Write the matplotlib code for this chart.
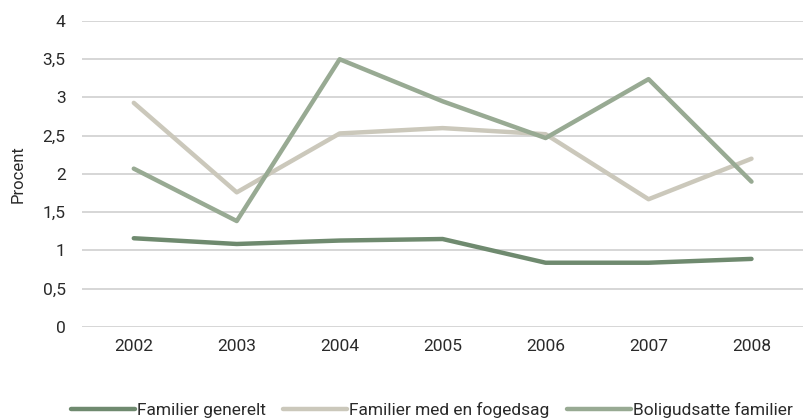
import matplotlib.pyplot as plt

years = ["2002", "2003", "2004", "2005", "2006", "2007", "2008"]
generelt = [1.16, 1.085, 1.13, 1.15, 0.84, 0.84, 0.89]
fogedsag = [2.93, 1.76, 2.53, 2.60, 2.52, 1.67, 2.20]
boligudsatte = [2.07, 1.385, 3.50, 2.95, 2.47, 3.24, 1.90]

plt.rcParams['font.family'] = ['Roboto', 'DejaVu Sans']

fig = plt.figure(figsize=(8.07, 4.19), dpi=100)
ax = fig.add_axes([0.102, 0.2196, 0.893, 0.7303])

x = range(len(years))
ax.plot(x, generelt, color="#6f8a6f", lw=3.2, solid_capstyle="round", label="Familier generelt", zorder=3)
ax.plot(x, fogedsag, color="#cbc8bb", lw=3.2, solid_capstyle="round", label="Familier med en fogedsag", zorder=3)
ax.plot(x, boligudsatte, color="#98aa93", lw=3.2, solid_capstyle="round", label="Boligudsatte familier", zorder=3)

ax.set_xlim(-0.5, 6.5)
ax.set_ylim(0, 4)
ax.set_xticks(list(x))
ax.set_xticklabels(years)
yt = [0, 0.5, 1, 1.5, 2, 2.5, 3, 3.5, 4]
ax.set_yticks(yt)
ax.set_yticklabels([("%g" % v).replace(".", ",") for v in yt])
ax.tick_params(length=0, labelsize=12.5, colors="#2a2a2a", pad=12)
ax.tick_params(axis="x", pad=9)
ax.grid(axis="y", color="#d0d0d0", lw=1.2)
ax.set_axisbelow(True)
for s in ax.spines.values():
    s.set_visible(False)
ax.set_ylabel("Procent", fontsize=12, color="#2a2a2a", labelpad=12)

fig.legend(loc="lower center", ncol=3, frameon=False, fontsize=12.5,
           bbox_to_anchor=(0.535, -0.035), handlelength=3.7, handletextpad=0.1,
           columnspacing=1.0, labelcolor="#2a2a2a")

fig.savefig("out.png", dpi=100)
